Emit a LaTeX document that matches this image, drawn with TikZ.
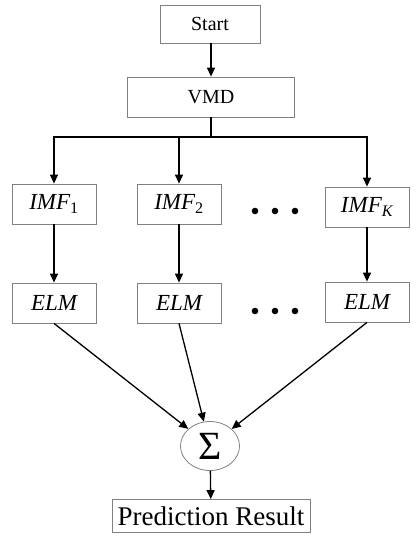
\documentclass[tikz,border=0pt]{standalone}
\usepackage{fontspec}
\setmainfont{Liberation Serif}
\usetikzlibrary{arrows.meta, shapes.geometric}

\begin{document}
\begin{tikzpicture}[
  x=1pt, y=-1pt,
  every node/.style={align=center},
  box/.style={draw=gray, line width=0.8pt, inner sep=0pt, font=\fontsize{20}{24}\selectfont},
  imfbox/.style={box, minimum width=84pt, minimum height=40pt, font=\fontsize{23}{26}\selectfont\itshape},
  sumnode/.style={ellipse, draw=gray, line width=0.8pt, inner sep=0pt, minimum width=59pt, minimum height=49pt, font=\fontsize{40}{42}\selectfont},
  flow/.style={->, line width=1.3pt},
  >={Triangle[length=9pt, width=8pt]}
]
\useasboundingbox (0,0) rectangle (416,550);
% Nodes
\node[box, minimum width=100pt, minimum height=38pt] (start) at (210,24) {Start};
\node[box, minimum width=167pt, minimum height=40pt] (vmd) at (211,97) {VMD};
\coordinate (split) at (211,137);
\node[imfbox] (imf1) at (54,204) {IMF\textsubscript{\upshape 1}};
\node[imfbox] (imf2) at (179,204) {IMF\textsubscript{\upshape 2}};
\node[imfbox] (imfk) at (367,207) {IMF\textsubscript{K}};
\node[imfbox] (elm1) at (54,303) {ELM};
\node[imfbox] (elm2) at (179,303) {ELM};
\node[imfbox] (elmk) at (367,302) {ELM};
\node[sumnode] (sum) at (210,446) {Σ};
\node[box, minimum width=198pt, minimum height=33pt, font=\fontsize{27}{30}\selectfont] (result) at (211,516) {Prediction Result};
% Dots
\foreach \x in {255,275,295} {
  \fill (\x,211) circle (3.3pt);
  \fill (\x,311) circle (3.3pt);
}
% Arrows
\draw[flow] (start.south -| vmd.north) -- (vmd);
\draw[line width=1.3pt] (vmd) -- (split);
\draw[flow] (split) -| (imf1);
\draw[flow] (split) -| (imf2);
\draw[flow] (split) -| (imfk);
\draw[flow] (imf1) -- (elm1);
\draw[flow] (imf2) -- (elm2);
\draw[flow] (imfk) -- (elmk);
\draw[flow] (elm1.south) -- (sum);
\draw[flow] (elm2.south) -- (sum);
\draw[flow] (elmk.south) -- (sum);
\draw[flow] (sum) -- (result);
\end{tikzpicture}
\end{document}
